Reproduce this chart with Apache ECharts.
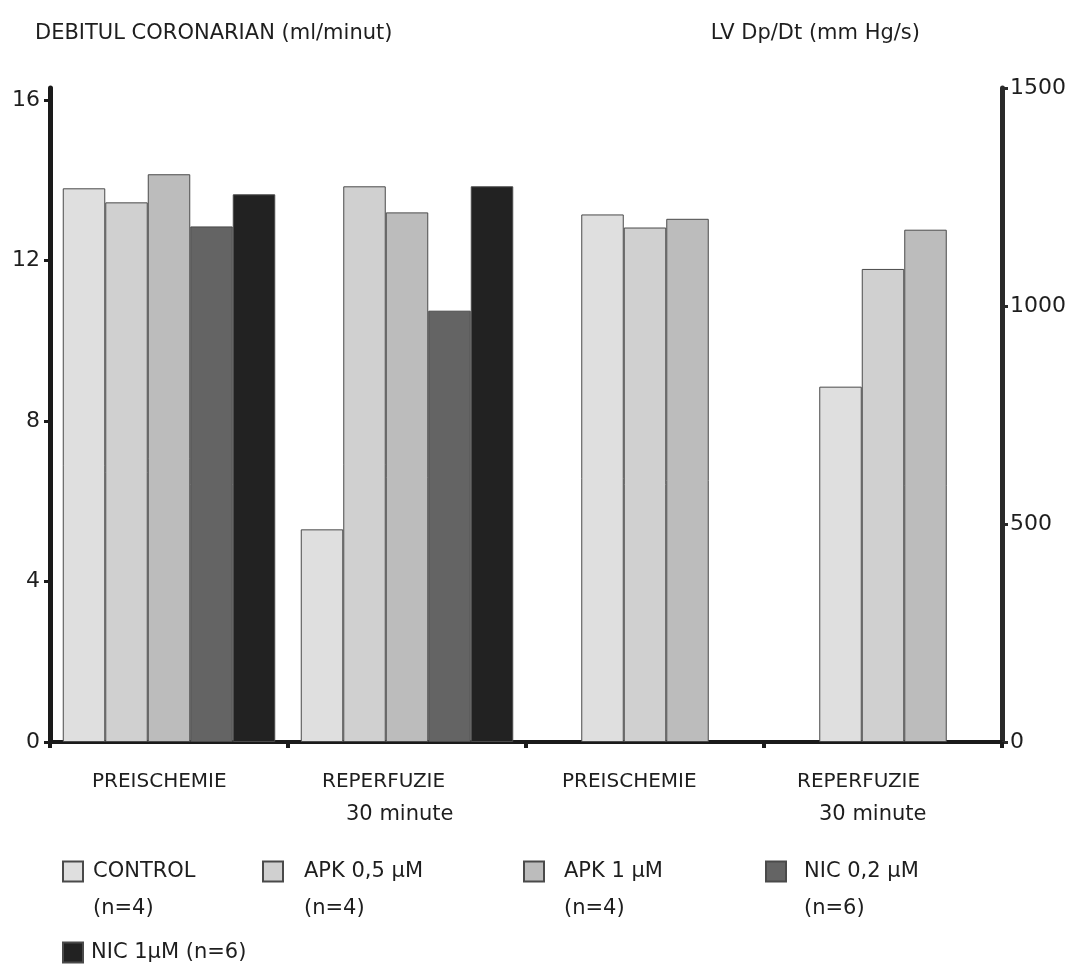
<!DOCTYPE html>
<html><head><meta charset="utf-8">
<script src="https://cdn.jsdelivr.net/npm/echarts@6/dist/echarts.min.js"></script>
<style>html,body{margin:0;padding:0;background:#fff}#c{width:1075px;height:974px}</style>
</head><body><div id="c"></div>
<script>
// ---- data ----
const categories = ['PREISCHEMIE', 'REPERFUZIE\n30 minute', 'PREISCHEMIE', 'REPERFUZIE\n30 minute'];
const seriesNames = ['CONTROL', 'APK 0,5 µM', 'APK 1 µM', 'NIC 0,2 µM', 'NIC 1µM'];
const groupSizes = ['(n=4)', '(n=4)', '(n=4)', '(n=6)', '(n=6)'];
// Debitul coronarian (ml/minut) - left axis
const flowPreischemie = [13.8, 13.45, 14.15, 12.85, 13.65];
const flowReperfuzie = [5.3, 13.85, 13.2, 10.75, 13.85];
// LV Dp/Dt (mm Hg/s) - right axis (CONTROL, APK 0,5, APK 1)
const dpdtPreischemie = [1210, 1180, 1200];
const dpdtReperfuzie = [815, 1085, 1175];
const leftTicks = [0, 4, 8, 12, 16];
const rightTicks = [0, 500, 1000, 1500];

// ---- styles ----
const colors = ['#dfdfdf', '#d0d0d0', '#bcbcbc', '#646464', '#222222'];
const numFont = 'DejaVu Sans';
const txtFont = 'DejaVu Sans';
const ink = '#1e1e1e';

const series = [];
seriesNames.forEach((n, i) => {
  series.push({
    name: n, type: 'bar', xAxisIndex: 0, yAxisIndex: 0,
    barWidth: 42.5, barGap: '0%',
    itemStyle: { color: colors[i], borderColor: '#4a4a4a', borderWidth: 1 },
    data: [flowPreischemie[i], flowReperfuzie[i], null, null]
  });
});
dpdtPreischemie.forEach((v, i) => {
  series.push({
    name: seriesNames[i], type: 'bar', xAxisIndex: 1, yAxisIndex: 1,
    barWidth: 42.5, barGap: '0%',
    itemStyle: { color: colors[i], borderColor: '#4a4a4a', borderWidth: 1 },
    data: [null, null, dpdtPreischemie[i], dpdtReperfuzie[i]]
  });
});

const legendPos = [[62, 816], [262, 816], [523, 816], [765, 816], [62, 934]];
const legendPadLeft = [5, 16, 15, 13, 3];
const legends = seriesNames.map((n, i) => {
  const multi = i < 4;
  return {
    data: [{ name: n, icon: 'rect' }],
    left: legendPos[i][0], top: legendPos[i][1],
    itemWidth: 20, itemHeight: 20, padding: 0,
    selectedMode: false,
    formatter: nm => multi ? ' \n' + nm + '\n' + groupSizes[i] : nm + ' ' + groupSizes[i],
    textStyle: {
      fontFamily: txtFont, fontSize: 21, color: ink,
      lineHeight: 37,
      padding: [0, 0, 0, legendPadLeft[i]]
    }
  };
});

const base = { fontFamily: txtFont, fontSize: 20, color: ink, lineHeight: 33, align: 'left' };
const labelRich = {
  p1: Object.assign({}, base, { width: 154 }),
  p3: Object.assign({}, base, { width: 166 }),
  r2: Object.assign({}, base, { width: 170 }),
  m2: Object.assign({}, base, { width: 146, padding: [0, 0, 0, 24], fontSize: 21 }),
  r4: Object.assign({}, base, { width: 172 }),
  m4: Object.assign({}, base, { width: 150, padding: [0, 0, 0, 22], fontSize: 21 })
};

const option = {
  backgroundColor: '#fff',
  animation: false,
  title: [
    { text: 'DEBITUL CORONARIAN (ml/minut)', left: 35, top: 23, padding: 0,
      textStyle: { fontFamily: txtFont, fontSize: 21, fontWeight: 'normal', color: ink } },
    { text: 'LV Dp/Dt (mm Hg/s)', right: 155, top: 23, padding: 0,
      textStyle: { fontFamily: txtFont, fontSize: 21, fontWeight: 'normal', color: ink } }
  ],
  legend: legends,
  grid: { left: 50, right: 73, top: 88, bottom: 232, containLabel: false },
  xAxis: [
    {
      type: 'category', data: categories, position: 'bottom',
      axisLine: { lineStyle: { color: '#1a1a1a', width: 4 } },
      axisTick: { show: true, length: 6, lineStyle: { color: '#1a1a1a', width: 4 } },
      axisLabel: {
        margin: 23, interval: 0,
        formatter: (v, idx) => {
          const parts = v.split('\n');
          if (idx === 0) return '{p1|' + parts[0] + '}';
          if (idx === 2) return '{p3|' + parts[0] + '}';
          if (idx === 1) return '{r2|' + parts[0] + '}\n{m2|' + parts[1] + '}';
          return '{r4|' + parts[0] + '}\n{m4|' + parts[1] + '}';
        },
        rich: labelRich
      }
    },
    { type: 'category', data: categories, position: 'bottom', show: false }
  ],
  yAxis: [
    {
      type: 'value', position: 'left', min: 0, max: 16.3,
      splitLine: { show: false },
      axisLine: { show: true, lineStyle: { color: '#1a1a1a', width: 5 } },
      axisTick: { show: true, length: 6, customValues: leftTicks, lineStyle: { color: '#1a1a1a', width: 3 } },
      axisLabel: { customValues: leftTicks, margin: 10, fontFamily: numFont, fontSize: 22, color: ink }
    },
    {
      type: 'value', position: 'right', min: 0, max: 1500, interval: 500,
      splitLine: { show: false },
      axisLine: { show: true, lineStyle: { color: '#2a2a2a', width: 5 } },
      axisTick: { show: true, length: 6, lineStyle: { color: '#2a2a2a', width: 3 } },
      axisLabel: { margin: 8, fontFamily: numFont, fontSize: 22, color: ink,
        formatter: v => String(v) }
    }
  ],
  series: series
};

const chart = echarts.init(document.getElementById('c'), null, { renderer: 'canvas' });
chart.setOption(option);
</script>
</body></html>
